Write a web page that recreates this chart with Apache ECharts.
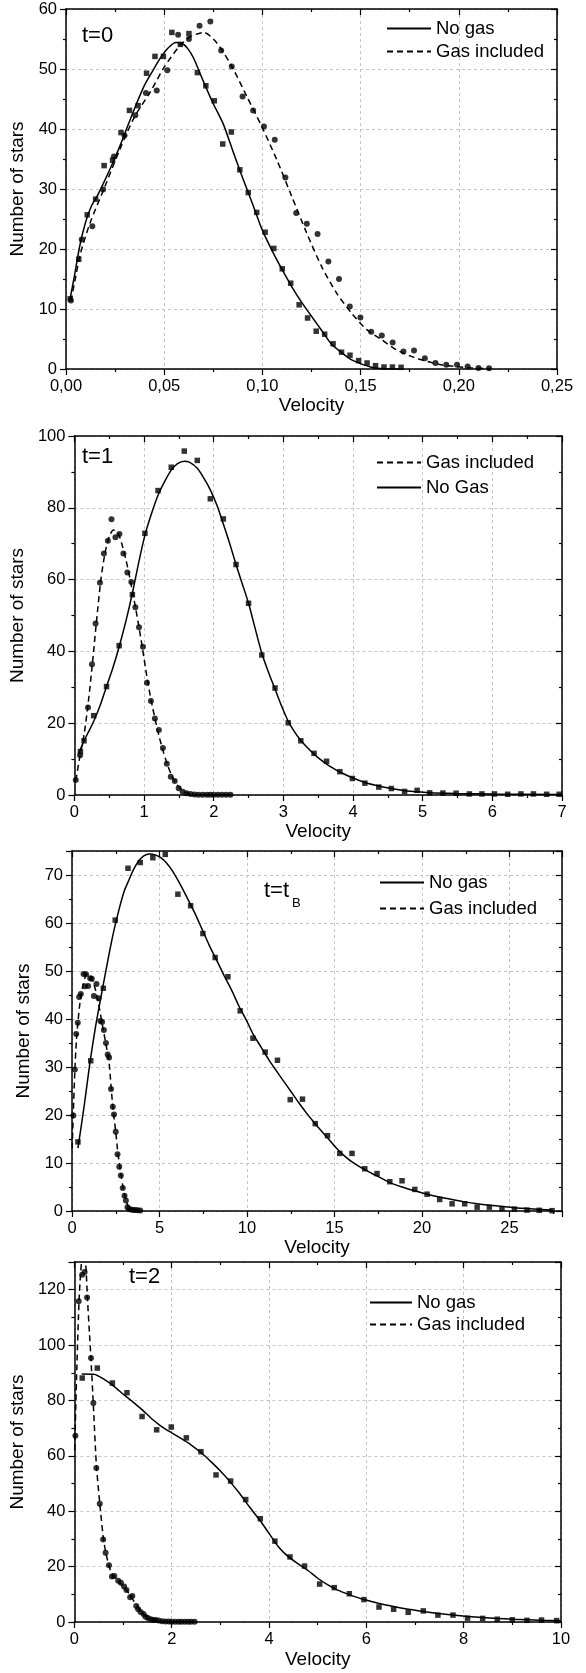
<!DOCTYPE html>
<html><head><meta charset="utf-8">
<script src="https://cdn.jsdelivr.net/npm/echarts@6/dist/echarts.min.js"></script>
<style>html,body{margin:0;padding:0;background:#fff}#c{width:586px;height:1673px}</style>
</head><body><div id="c"></div>
<script>
// ---------------- Panel 1 (t=0) ----------------
const p1NoGasPts = [[0.0021,11.7],[0.0065,18.3],[0.0108,25.7],[0.0151,28.3],[0.0194,33.9],[0.0237,34.8],[0.0280,39.4],[0.0323,43.1],[0.0367,43.9],[0.0410,49.3],[0.0453,52.1],[0.0496,52.1],[0.0539,56.1],[0.0582,54.1],[0.0626,55.9],[0.0669,49.4],[0.0712,47.2],[0.0755,44.7],[0.0798,37.5],[0.0842,39.5],[0.0885,33.2],[0.0928,29.4],[0.0971,26.1],[0.1014,22.8],[0.1058,20.1],[0.1101,16.7],[0.1144,14.3],[0.1187,10.7],[0.1230,8.5],[0.1274,6.3],[0.1317,5.8],[0.1360,4.2],[0.1403,2.8],[0.1446,2.3],[0.1490,1.4],[0.1533,1.0],[0.1576,0.55],[0.1619,0.33],[0.1662,0.33],[0.1706,0.28]];
const p1GasPts = [[0.0025,11.4],[0.0080,21.6],[0.0134,23.8],[0.0189,29.9],[0.0244,35.4],[0.0298,38.9],[0.0353,42.3],[0.0407,46.0],[0.0462,46.4],[0.0516,49.8],[0.0571,55.7],[0.0626,55.0],[0.0680,57.2],[0.0735,57.9],[0.0790,53.1],[0.0844,50.4],[0.0899,45.4],[0.0953,43.1],[0.1008,40.4],[0.1063,38.2],[0.1117,31.9],[0.1172,26.0],[0.1226,24.2],[0.1281,22.5],[0.1336,17.9],[0.1390,15.0],[0.1445,10.4],[0.1499,8.6],[0.1554,6.2],[0.1608,5.6],[0.1663,4.4],[0.1718,2.9],[0.1772,3.1],[0.1827,1.8],[0.1881,1.0],[0.1936,0.7],[0.1991,0.7],[0.2045,0.4],[0.2100,0.17],[0.2154,0.12]];
const p1NoGasFit = [[0.002,11.6],[0.004,15.0],[0.007,20.5],[0.010,24.5],[0.013,27.2],[0.016,28.9],[0.020,31.6],[0.024,34.5],[0.028,37.6],[0.032,41.0],[0.036,44.3],[0.040,47.3],[0.044,49.6],[0.048,51.8],[0.052,53.5],[0.056,54.4],[0.059,54.3],[0.062,53.4],[0.065,51.8],[0.070,47.9],[0.075,44.2],[0.080,40.9],[0.085,36.3],[0.090,31.8],[0.095,27.5],[0.100,23.1],[0.105,19.7],[0.110,16.6],[0.115,13.7],[0.120,11.1],[0.125,8.8],[0.130,6.5],[0.135,4.2],[0.140,2.8],[0.145,1.6],[0.150,0.9],[0.155,0.35],[0.160,0.1],[0.170,0.0]];
const p1GasFit = [[0.0025,11.3],[0.005,15.5],[0.0074,19.3],[0.0122,24.3],[0.0198,30.4],[0.0274,36.6],[0.035,42.1],[0.0426,46.0],[0.0502,50.4],[0.0578,53.8],[0.0635,55.4],[0.0702,56.1],[0.0769,54.3],[0.0845,50.4],[0.0921,45.4],[0.0997,40.4],[0.1073,34.9],[0.1149,28.8],[0.1225,22.7],[0.1301,17.1],[0.1377,12.7],[0.1454,9.3],[0.153,6.6],[0.1606,4.9],[0.1682,3.2],[0.1758,2.1],[0.1834,1.3],[0.191,0.7],[0.1986,0.4],[0.2062,0.2],[0.2158,0.05]];
const p1XLabels = ['0,00','0,05','0,10','0,15','0,20','0,25'];
const p1YLabels = ['0','10','20','30','40','50','60'];
const p1Legend = ['No gas','Gas included'];

// ---------------- Panel 2 (t=1) ----------------
const p2NoGasPts = [[0.086,12.1],[0.138,15.1],[0.276,22.1],[0.461,30.2],[0.642,41.6],[0.832,55.8],[1.012,72.9],[1.2,84.8],[1.39,91.3],[1.577,95.8],[1.764,93.2],[1.951,82.5],[2.138,76.9],[2.32,64.2],[2.5,53.4],[2.69,39.0],[2.88,29.8],[3.07,20.1],[3.25,15.1],[3.44,11.6],[3.62,9.4],[3.81,6.5],[3.99,4.6],[4.17,3.3],[4.37,2.2],[4.55,1.8],[4.74,1.0],[4.92,1.3],[5.1,0.6],[5.29,0.55],[5.48,0.5],[5.67,0.3],[5.85,0.3],[6.03,0.3],[6.22,0.2],[6.41,0.3],[6.59,0.3],[6.78,0.2],[6.96,0.2]];
const p2GasPts = [[0.019,4.2],[0.081,11.1],[0.195,24.4],[0.252,36.4],[0.304,47.8],[0.366,59.1],[0.423,67.3],[0.48,70.8],[0.532,76.8],[0.589,71.8],[0.646,72.7],[0.703,67.3],[0.76,62.0],[0.817,59.3],[0.875,52.3],[0.927,46.7],[0.984,41.3],[1.041,31.3],[1.098,26.2],[1.155,21.3],[1.212,18.1],[1.27,13.1],[1.326,8.7],[1.383,5.1],[1.44,3.9],[1.497,1.9],[1.554,0.9],[1.611,0.5],[1.668,0.25],[1.725,0.15],[1.78,0.1],[1.84,0.1],[1.9,0.1],[1.95,0.1],[2.0,0.1],[2.06,0.1],[2.12,0.1],[2.18,0.1],[2.24,0.1]];
const p2NoGasFit = [[0.06,11.5],[0.143,15.3],[0.2,17.5],[0.285,20.9],[0.37,25.0],[0.452,29.7],[0.55,35.3],[0.642,41.3],[0.74,48.5],[0.832,56.2],[0.92,64.5],[1.012,72.4],[1.1,78.0],[1.2,83.5],[1.3,87.5],[1.39,90.5],[1.48,92.3],[1.577,93.0],[1.65,92.7],[1.764,91.0],[1.86,88.2],[1.951,85.0],[2.05,80.5],[2.138,75.5],[2.23,70.0],[2.32,64.2],[2.41,58.8],[2.5,53.4],[2.6,46.0],[2.69,39.5],[2.79,34.0],[2.88,29.5],[2.98,24.5],[3.07,20.5],[3.16,17.6],[3.25,15.2],[3.35,13.1],[3.44,11.4],[3.53,9.9],[3.62,8.6],[3.72,7.4],[3.81,6.4],[3.99,4.8],[4.17,3.5],[4.37,2.5],[4.55,1.8],[4.74,1.2],[4.92,0.9],[5.1,0.6],[5.48,0.4],[6.0,0.25],[7.0,0.15]];
const p2GasFit = [[0.02,4.0],[0.08,11.0],[0.14,17.0],[0.2,26.0],[0.26,37.0],[0.32,49.0],[0.38,60.0],[0.44,67.5],[0.5,72.0],[0.56,73.8],[0.62,73.2],[0.68,70.0],[0.74,65.5],[0.8,60.0],[0.86,54.0],[0.92,47.5],[0.98,40.5],[1.04,33.0],[1.1,26.5],[1.16,21.0],[1.22,16.0],[1.28,11.8],[1.34,8.2],[1.4,5.3],[1.46,3.2],[1.52,1.8],[1.58,0.9],[1.64,0.45],[1.7,0.2],[1.8,0.1],[2.0,0.05],[2.24,0.05]];
const p2XLabels = ['0','1','2','3','4','5','6','7'];
const p2YLabels = ['0','20','40','60','80','100'];
const p2Legend = ['Gas included','No Gas'];

// ---------------- Panel 3 (t=tB) ----------------
const p3NoGasPts = [[0.34,14.4],[1.07,31.3],[1.79,46.4],[2.47,60.6],[3.2,71.4],[3.9,72.6],[4.62,73.6],[5.33,74.3],[6.05,66.0],[6.78,63.6],[7.48,57.8],[8.18,52.8],[8.91,48.8],[9.61,41.7],[10.34,36.0],[11.04,33.1],[11.74,31.4],[12.47,23.2],[13.17,23.3],[13.9,18.2],[14.6,15.7],[15.3,12.0],[16.0,12.0],[16.73,8.8],[17.43,7.8],[18.16,6.1],[18.86,6.3],[19.59,4.5],[20.29,3.5],[21.01,2.4],[21.72,1.5],[22.44,1.5],[23.15,0.8],[23.85,0.8],[24.57,0.5],[25.28,0.4],[26.0,0.2],[26.7,0.14],[27.43,0.07]];
const p3GasPts = [[0.08,19.9],[0.16,29.5],[0.24,36.9],[0.33,39.2],[0.41,44.6],[0.5,45.2],[0.66,49.4],[0.74,46.8],[0.8,49.3],[0.92,46.9],[1.04,48.5],[1.13,48.4],[1.25,44.8],[1.4,47.3],[1.52,44.3],[1.62,39.6],[1.72,39.4],[1.82,37.7],[1.94,35.0],[2.04,32.6],[2.12,32.0],[2.23,25.4],[2.33,21.7],[2.4,20.1],[2.5,16.5],[2.6,11.8],[2.7,9.2],[2.79,7.4],[2.9,4.8],[3.0,3.2],[3.08,2.2],[3.17,0.8],[3.26,0.4],[3.36,0.3],[3.5,0.2],[3.62,0.2],[3.75,0.15],[3.9,0.1]];
const p3NoGasFit = [[0.34,13.1],[0.7,22.0],[1.02,30.8],[1.35,38.5],[1.66,44.7],[2.09,53.0],[2.4,58.5],[2.73,63.4],[3.0,66.8],[3.26,69.0],[3.5,71.0],[3.79,72.8],[4.1,74.0],[4.43,74.4],[4.75,74.2],[5.07,73.6],[5.4,72.5],[5.71,71.0],[6.1,68.6],[6.56,65.4],[7.0,62.2],[7.48,58.3],[7.85,55.3],[8.27,52.2],[8.7,49.0],[9.12,46.0],[9.55,42.6],[9.97,39.7],[10.34,36.9],[10.83,34.0],[11.25,31.5],[11.68,29.2],[12.1,27.0],[12.53,24.8],[12.95,22.6],[13.38,20.5],[13.8,18.6],[14.24,16.7],[14.66,15.0],[15.09,13.2],[15.5,11.7],[15.94,10.4],[16.4,9.3],[16.79,8.5],[17.2,7.7],[17.65,6.9],[18.16,5.9],[18.86,5.0],[19.59,4.2],[20.29,3.5],[21.0,2.9],[21.72,2.4],[22.44,1.9],[23.15,1.5],[23.85,1.2],[24.57,0.95],[25.28,0.7],[26.0,0.5],[26.7,0.35],[27.43,0.2]];
const p3GasFit = [[0.01,13.0],[0.08,21.0],[0.16,29.0],[0.25,35.5],[0.35,39.8],[0.45,43.2],[0.6,46.5],[0.75,48.7],[0.9,49.4],[1.05,49.0],[1.2,47.8],[1.35,46.0],[1.5,43.6],[1.65,40.5],[1.8,37.5],[1.95,34.5],[2.1,31.5],[2.2,27.5],[2.3,23.0],[2.4,19.5],[2.5,16.5],[2.6,12.8],[2.7,10.0],[2.8,7.6],[2.9,5.3],[3.0,3.5],[3.1,2.1],[3.2,1.0],[3.3,0.5],[3.45,0.2],[3.7,0.1],[4.0,0.05]];
const p3XLabels = ['0','5','10','15','20','25'];
const p3YLabels = ['0','10','20','30','40','50','60','70'];
const p3Legend = ['No gas','Gas included'];

// ---------------- Panel 4 (t=2) ----------------
const p4NoGasPts = [[0.16,88.1],[0.47,91.7],[0.78,86.3],[1.08,82.8],[1.39,74.2],[1.69,69.4],[1.99,70.4],[2.30,66.5],[2.60,61.5],[2.91,53.1],[3.21,50.9],[3.52,44.2],[3.82,37.3],[4.12,29.2],[4.43,23.5],[4.73,20.2],[5.04,13.7],[5.34,12.4],[5.65,10.2],[5.95,8.1],[6.26,5.4],[6.56,4.6],[6.86,3.5],[7.17,4.0],[7.47,2.5],[7.78,2.5],[8.08,1.4],[8.39,1.3],[8.69,1.0],[9.0,0.8],[9.3,0.6],[9.6,0.7],[9.91,0.5]];
const p4GasPts = [[0.02,67.3],[0.088,115.8],[0.16,125.4],[0.21,126.4],[0.26,117.2],[0.34,95.3],[0.39,79.1],[0.45,55.6],[0.52,42.7],[0.59,29.8],[0.64,25.0],[0.71,20.5],[0.77,16.4],[0.82,16.6],[0.90,14.9],[0.955,14.2],[1.02,12.8],[1.07,11.6],[1.145,8.9],[1.19,9.4],[1.27,5.8],[1.31,4.6],[1.36,3.6],[1.42,2.9],[1.46,1.9],[1.51,1.4],[1.57,1.0],[1.62,0.7],[1.67,0.7],[1.73,0.5],[1.8,0.25],[1.87,0.2],[1.94,0.15],[2.0,0.1],[2.07,0.1],[2.14,0.1],[2.2,0.1],[2.27,0.1],[2.34,0.1],[2.4,0.1],[2.47,0.1]];
const p4NoGasFit = [[0.15,89.6],[0.4,89.5],[0.62,87.5],[0.82,85.0],[1.02,82.0],[1.2,79.5],[1.4,76.5],[1.6,73.2],[1.8,70.5],[2.0,68.3],[2.2,66.2],[2.4,63.9],[2.6,61.2],[2.8,58.0],[3.0,54.5],[3.2,50.6],[3.4,46.3],[3.6,41.5],[3.8,37.0],[4.0,32.0],[4.2,27.0],[4.4,23.5],[4.6,21.0],[4.8,18.6],[5.0,15.8],[5.2,13.5],[5.4,11.6],[5.65,9.9],[5.95,8.1],[6.26,6.7],[6.56,5.6],[6.86,4.6],[7.17,3.8],[7.47,3.1],[7.78,2.5],[8.08,2.0],[8.39,1.6],[8.69,1.3],[9.0,1.0],[9.3,0.8],[9.6,0.6],[10.0,0.45]];
const p4GasFit = [[0.005,62.0],[0.05,92.0],[0.1,118.0],[0.15,131.0],[0.19,135.0],[0.23,130.0],[0.27,116.0],[0.31,104.0],[0.34,95.0],[0.39,78.0],[0.45,57.0],[0.52,43.0],[0.59,31.0],[0.64,25.5],[0.7,21.0],[0.75,18.2],[0.8,16.6],[0.9,14.8],[1.0,13.0],[1.1,10.8],[1.2,8.2],[1.3,5.5],[1.4,3.3],[1.5,1.8],[1.6,0.9],[1.7,0.45],[1.8,0.2],[2.0,0.1],[2.45,0.05]];
const p4XLabels = ['0','2','4','6','8','10'];
const p4YLabels = ['0','20','40','60','80','100','120'];
const p4Legend = ['No gas','Gas included'];

// ---------------- Layout / styling ----------------
const FONT = '"Liberation Sans", Arial, Helvetica, sans-serif';
const INK = '#000';
const panels = [
  {grid:{left:66, top:9, width:491, height:360}, x:{min:0,max:0.25,step:0.05,labels:p1XLabels,gap:27}, y:{min:0,max:60,step:10,labels:p1YLabels,gap:33},
   noGasName:'No gas', noPts:p1NoGasPts, gasPts:p1GasPts, noFit:p1NoGasFit, gasFit:p1GasFit, legend:p1Legend, legendPos:{left:386, top:19, gap:4, w:44}},
  {grid:{left:71, top:436, width:491, height:359}, x:{min:0,max:7,step:1,labels:p2XLabels,gap:22}, y:{min:0,max:100,step:20,labels:p2YLabels,gap:34},
   noGasName:'No Gas', noPts:p2NoGasPts, gasPts:p2GasPts, noFit:p2NoGasFit, gasFit:p2GasFit, legend:p2Legend, legendPos:{left:376, top:453, gap:6, w:44}},
  {grid:{left:72, top:851, width:490, height:360}, x:{min:0,max:28,step:5,labels:p3XLabels,gap:21}, y:{min:0,max:75,step:10,labels:p3YLabels,gap:31},
   noGasName:'No gas', noPts:p3NoGasPts, gasPts:p3GasPts, noFit:p3NoGasFit, gasFit:p3GasFit, legend:p3Legend, legendPos:{left:379, top:873, gap:7, w:44}},
  {grid:{left:69, top:1262, width:492, height:360}, x:{min:0,max:10,step:2,labels:p4XLabels,gap:28}, y:{min:0,max:130,step:20,labels:p4YLabels,gap:35},
   noGasName:'No gas', noPts:p4NoGasPts, gasPts:p4GasPts, noFit:p4NoGasFit, gasFit:p4GasFit, legend:p4Legend, legendPos:{left:369, top:1293, gap:3, w:42}}
];

function labelFor(arr, step) {
  return function (v) {
    const k = v / step, r = Math.round(k);
    if (Math.abs(k - r) > 1e-6) return '';
    return arr[r] !== undefined ? arr[r] : '';
  };
}
function baseAxis(a, gi, pos, main, name, gap) {
  return {
    type: 'value', gridIndex: gi, position: pos, min: a.min, max: a.max, interval: a.step,
    name: main ? name : '', nameLocation: 'middle', nameGap: gap,
    nameTextStyle: {fontFamily: FONT, fontSize: 19, color: INK},
    axisLine: {show: true, onZero: false, lineStyle: {color: INK, width: 1.5}},
    axisTick: {show: true, inside: !main, length: 6, lineStyle: {color: INK, width: 1.2}},
    minorTick: {show: true, splitNumber: 2, length: 3, lineStyle: {color: INK, width: 1.2}},
    axisLabel: {show: main, margin: 9, fontFamily: FONT, fontSize: 16.5, color: INK, formatter: labelFor(a.labels, a.step)},
    splitLine: {show: main, lineStyle: {color: '#c4c4c4', width: 1, type: [3, 3]}},
    minorSplitLine: {show: false}
  };
}

const grid = [], xAxis = [], yAxis = [], series = [], legend = [];
panels.forEach((p, i) => {
  grid.push(Object.assign({containLabel: false}, p.grid));
  xAxis.push(baseAxis(p.x, i, 'bottom', true, 'Velocity', p.x.gap));
  yAxis.push(baseAxis(p.y, i, 'left', true, 'Number of stars', p.y.gap));
});
panels.forEach((p, i) => {
  xAxis.push(baseAxis(p.x, i, 'top', false, '', 0));
  yAxis.push(baseAxis(p.y, i, 'right', false, '', 0));
});
panels.forEach((p, i) => {
  series.push({type: 'line', name: p.noGasName, xAxisIndex: i, yAxisIndex: i, data: p.noFit, symbol: 'none', smooth: 0.25,
    lineStyle: {color: INK, width: 1.5, type: 'solid'}, itemStyle: {color: INK}, z: 3, silent: true});
  series.push({type: 'line', name: 'Gas included', xAxisIndex: i, yAxisIndex: i, data: p.gasFit, symbol: 'none', smooth: 0.25,
    lineStyle: {color: INK, width: 1.5, type: [6, 4]}, itemStyle: {color: INK}, z: 3, silent: true});
  series.push({type: 'scatter', name: 'p' + (i + 1) + ' no gas data', xAxisIndex: i, yAxisIndex: i, data: p.noPts,
    symbol: 'rect', symbolSize: 5.5, itemStyle: {color: INK}, z: 4, silent: true});
  series.push({type: 'scatter', name: 'p' + (i + 1) + ' gas data', xAxisIndex: i, yAxisIndex: i, data: p.gasPts,
    symbol: 'circle', symbolSize: 6, itemStyle: {color: INK}, z: 4, silent: true});
  legend.push({data: p.legend, orient: 'vertical', left: p.legendPos.left, top: p.legendPos.top, itemGap: p.legendPos.gap,
    itemWidth: p.legendPos.w, itemHeight: 14, padding: 0, selectedMode: false,
    itemStyle: {opacity: 0, borderWidth: 0},
    textStyle: {fontFamily: FONT, fontSize: 18.5, color: INK}});
});

const tfont = '22px ' + FONT;
const graphic = [
  {type: 'text', left: 82, top: 25, style: {text: 't=0', font: tfont, fill: INK}},
  {type: 'text', left: 82, top: 446, style: {text: 't=1', font: tfont, fill: INK}},
  {type: 'text', left: 264, top: 880, style: {text: 't=t', font: tfont, fill: INK}},
  {type: 'text', left: 292, top: 897, style: {text: 'B', font: '13px ' + FONT, fill: INK}},
  {type: 'text', left: 129, top: 1266, style: {text: 't=2', font: tfont, fill: INK}}
];

const chart = echarts.init(document.getElementById('c'), null, {renderer: 'canvas'});
chart.setOption({animation: false, backgroundColor: '#fff', grid, xAxis, yAxis, series, legend, graphic});
</script></body></html>
